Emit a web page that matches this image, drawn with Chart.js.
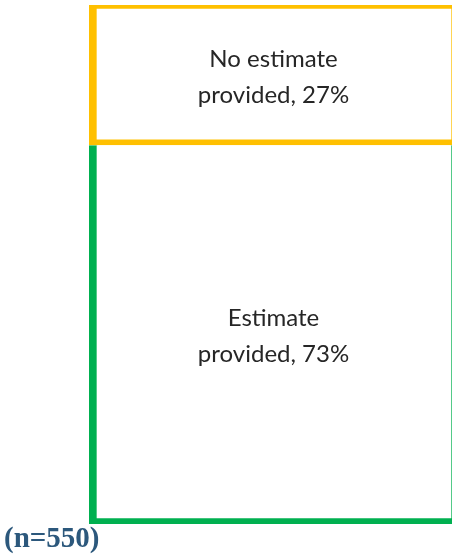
<!DOCTYPE html>
<html>
<head>
<meta charset="utf-8">
<script src="https://cdn.jsdelivr.net/npm/chart.js@4/dist/chart.umd.min.js"></script>
<style>
  html, body { margin: 0; padding: 0; background: #fff; overflow: hidden; }
  #wrap { position: relative; width: 460px; height: 555px; }
  #note {
    position: absolute; left: 4px; top: 521px;
    font: bold 29px "Liberation Serif", "Times New Roman", serif;
    color: #2c587c;
  }
</style>
</head>
<body>
<div id="wrap">
  <canvas id="c" width="460" height="555"></canvas>
  <div id="note">(n=550)</div>
</div>
<script>
// single stacked bar: share of respondents giving an estimate
const categories = ["Total"];
const segmentNames = ["Estimate provided", "No estimate provided"];
const segmentLines = [["Estimate", "provided"], ["No estimate", "provided"]];
const segmentValues = [73, 27];
const segmentColors = ["#00b050", "#ffc000"];

// draws the two-line label in the middle of each segment
const centerLabels = {
  id: "centerLabels",
  afterDatasetsDraw(chart) {
    const ctx = chart.ctx;
    ctx.save();
    ctx.font = '24px Lato, "Open Sans", sans-serif';
    ctx.fillStyle = "#262626";
    ctx.textAlign = "center";
    ctx.textBaseline = "middle";
    chart.data.datasets.forEach((ds, i) => {
      const bar = chart.getDatasetMeta(i).data[0];
      const { x, y } = bar.getCenterPoint();
      const lines = segmentLines[i].slice();
      lines[lines.length - 1] += ", " + ds.data[0] + "%";
      ctx.fillText(lines[0], x, y - 16);
      ctx.fillText(lines[1], x, y + 20);
    });
    ctx.restore();
  },
};

new Chart(document.getElementById("c").getContext("2d"), {
  type: "bar",
  data: {
    labels: categories,
    datasets: [
      {
        label: segmentNames[0],
        data: [segmentValues[0]],
        backgroundColor: "#ffffff",
        borderColor: segmentColors[0],
        borderWidth: { left: 8, right: 7, bottom: 6, top: 0 },
        borderSkipped: false,
        barPercentage: 1,
        categoryPercentage: 1,
      },
      {
        label: segmentNames[1],
        data: [segmentValues[1]],
        backgroundColor: "#ffffff",
        borderColor: segmentColors[1],
        borderWidth: { left: 8, right: 7, bottom: 6, top: 4 },
        borderSkipped: false,
        barPercentage: 1,
        categoryPercentage: 1,
      },
    ],
  },
  options: {
    responsive: false,
    animation: false,
    layout: { padding: { left: 89, right: 2, top: 5, bottom: 31 } },
    plugins: { legend: { display: false }, tooltip: { enabled: false } },
    scales: {
      x: { stacked: true, display: false },
      y: { stacked: true, display: false, min: 0, max: 100 },
    },
  },
  plugins: [centerLabels],
});
</script>
</body>
</html>
